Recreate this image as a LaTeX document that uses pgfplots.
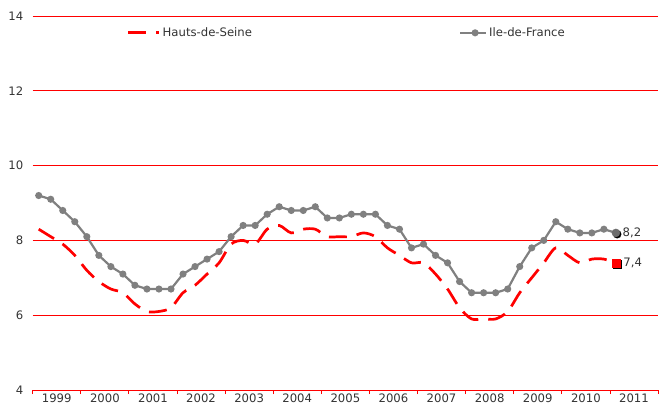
\documentclass[border=0pt]{standalone}
\usepackage{pgfplots}
\pgfplotsset{compat=1.18}
\usepackage{fontspec}
\setmainfont{DejaVu Sans}
\definecolor{txt}{HTML}{333333}
\definecolor{gline}{HTML}{808080}
\definecolor{gridred}{HTML}{FF0000}
\newcommand{\chartfont}{\fontsize{11.7}{13.5}\selectfont}
\pgfplotsset{
  redleg/.style={legend image code/.code={\draw[##1] (0bp,0bp) -- (31bp,0bp);}},
  greyleg/.style={legend image code/.code={\draw[##1, mark repeat=2, mark phase=2] plot coordinates {(0bp,0bp) (15bp,0bp) (26bp,0bp)};}},
}
\begin{document}
\begin{tikzpicture}
\path[use as bounding box] (-32.7bp,-15bp) rectangle (626.3bp,390bp);
\begin{axis}[
  at={(0,0)}, anchor=south west,
  scale only axis, width=625.3bp, height=374bp,
  xmin=-0.5, xmax=51.5, ymin=4, ymax=14,
  clip=false,
  axis x line*=bottom, axis y line*=left,
  x axis line style={gridred, line width=0.8bp},
  y axis line style={draw=none},
  ytick={4,6,...,14},
  xtick={1.5,5.5,...,49.5},
  xticklabels={1999,2000,2001,2002,2003,2004,2005,2006,2007,2008,2009,2010,2011},
  minor xtick={-0.5,3.5,...,51.5},
  major tick length=0pt, minor tick length=4bp, tick align=outside,
  minor x tick style={gridred, line width=0.8bp},
  ymajorgrids, major grid style={gridred, line width=0.8bp},
  tick label style={font=\chartfont, text=txt},
  /pgf/number format/assume math mode=true,
  yticklabel style={xshift=-6bp},
  xticklabel style={yshift=-0.5bp},
  legend columns=2,
  legend cell align=left,
  legend style={draw=none, fill=none, at={(0.5025,0.955)}, anchor=center,
    font=\chartfont, text=txt,
    /tikz/every even column/.append style={column sep=205bp}},
]
\addplot[gridred, line width=2.7bp, dash pattern=on 18bp off 10bp, smooth, redleg]
coordinates {
(0,8.3) (1,8.1) (2,7.9) (3,7.6) (4,7.2) (5,6.9) (6,6.7) (7,6.6) (8,6.3) (9,6.1)
(10,6.1) (11,6.2) (12,6.6) (13,6.8) (14,7.1) (15,7.4) (16,7.9) (17,8.0) (18,7.9) (19,8.3)
(20,8.4) (21,8.2) (22,8.3) (23,8.3) (24,8.1) (25,8.1) (26,8.1) (27,8.2) (28,8.1) (29,7.8)
(30,7.6) (31,7.4) (32,7.4) (33,7.1) (34,6.7) (35,6.2) (36,5.9) (37,5.9) (38,5.9) (39,6.1)
(40,6.6) (41,7.0) (42,7.4) (43,7.8) (44,7.6) (45,7.4) (46,7.5) (47,7.5) (48,7.4)
};
\addlegendentry{Hauts-de-Seine}
\addplot[gline, line width=2.2bp, mark=*, mark size=2.4bp, mark options={fill=gline, draw=gline, solid}, greyleg]
coordinates {
(0,9.2) (1,9.1) (2,8.8) (3,8.5) (4,8.1) (5,7.6) (6,7.3) (7,7.1) (8,6.8) (9,6.7)
(10,6.7) (11,6.7) (12,7.1) (13,7.3) (14,7.5) (15,7.7) (16,8.1) (17,8.4) (18,8.4) (19,8.7)
(20,8.9) (21,8.8) (22,8.8) (23,8.9) (24,8.6) (25,8.6) (26,8.7) (27,8.7) (28,8.7) (29,8.4)
(30,8.3) (31,7.8) (32,7.9) (33,7.6) (34,7.4) (35,6.9) (36,6.6) (37,6.6) (38,6.6) (39,6.7)
(40,7.3) (41,7.8) (42,8.0) (43,8.5) (44,8.3) (45,8.2) (46,8.2) (47,8.3) (48,8.2)
};
\addlegendentry{Ile-de-France}
% end markers with shadows
\addplot[only marks, mark=*, mark size=4bp, black, mark options={xshift=1.3bp, yshift=-1.3bp}, forget plot]
coordinates {(48,8.2)};
\addplot[only marks, mark=*, mark size=4bp, mark options={fill=gline!85!black, draw=gline!85!black}, forget plot]
coordinates {(48,8.2)} node[right, xshift=3.2bp, text=txt, font=\chartfont]{8,2};
\addplot[only marks, mark=square*, mark size=4bp, black, mark options={xshift=1.5bp, yshift=-1.5bp}, forget plot]
coordinates {(48,7.4)};
\addplot[only marks, mark=square*, mark size=4bp, gridred, forget plot]
coordinates {(48,7.4)} node[right, xshift=4bp, text=txt, font=\chartfont]{7,4};
\end{axis}
\end{tikzpicture}
\end{document}
